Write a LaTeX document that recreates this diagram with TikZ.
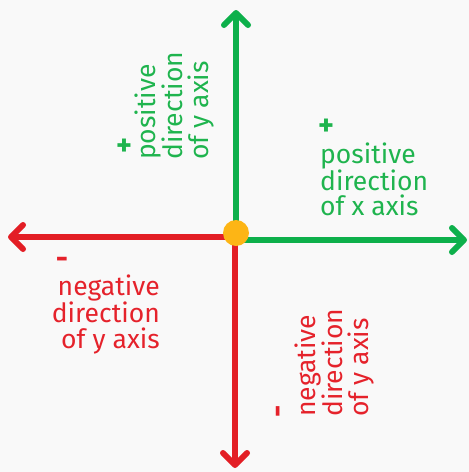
\documentclass[tikz,border=0pt]{standalone}
\usepackage{fontspec}
\setmainfont{Fira Sans}
\usetikzlibrary{arrows.meta}
\definecolor{axgreen}{HTML}{0DB04B}
\definecolor{axred}{HTML}{E31E25}
\definecolor{dotorange}{HTML}{FDB515}
\definecolor{txtgreen}{HTML}{1FB44E}
\definecolor{txtred}{HTML}{E5222B}
\definecolor{paper}{HTML}{F9F9F9}
\begin{document}
\begin{tikzpicture}[x=1pt,y=-1pt,
  axisline/.style={line width=6pt,-{Straight Barb[length=12pt,width=24pt,round]}},
  lbl/.style={font=\fontsize{26.5}{26}\selectfont, inner sep=0pt},
  sign/.style={font=\fontsize{30}{30}\selectfont\bfseries, inner sep=0pt}]
\fill[paper] (0,0) rectangle (469,472);
\useasboundingbox (0,0) rectangle (469,472);
% axis ends
\coordinate (ot) at (236,236);
\coordinate (ob) at (235,236);
\coordinate (ol) at (236,237);
\coordinate (or) at (236,240);
\coordinate (top) at (236,10);
\coordinate (bot) at (235,468);
\coordinate (lft) at (8,237);
\coordinate (rgt) at (467,240);
\draw[axisline,axgreen] (ot) -- (top);
\draw[axisline,axred] (ob) -- (bot);
\draw[axisline,axred] (ol) -- (lft);
\draw[axisline,axgreen] (or) -- (rgt);
\node[circle,fill=dotorange,minimum size=26pt,inner sep=0pt] (dot) at (236,233) {};
% positive x
\node[sign,txtgreen] (px0) at (326,127) {+};
\node[lbl,txtgreen,anchor=base west] (px1) at (320,163) {positive};
\node[lbl,txtgreen,anchor=base west] (px2) at (320,190) {direction};
\node[lbl,txtgreen,anchor=base west] (px3) at (320,215) {of x axis};
% positive y (rotated)
\node[sign,txtgreen] (py0) at (124,147) {+};
\node[lbl,txtgreen,rotate=90,anchor=base west] (py1) at (155,160) {positive};
\node[lbl,txtgreen,rotate=90,anchor=base west] (py2) at (182,160) {direction};
\node[lbl,txtgreen,rotate=90,anchor=base west] (py3) at (208,160) {of y axis};
% negative (left)
\node[sign,txtred] (nl0) at (62,263) {-};
\node[lbl,txtred,anchor=base east] (nl1) at (160,295) {negative};
\node[lbl,txtred,anchor=base east] (nl2) at (160,322) {direction};
\node[lbl,txtred,anchor=base east] (nl3) at (160,348) {of y axis};
% negative y (rotated)
\node[sign,txtred,rotate=90] (ny0) at (282,411) {-};
\node[lbl,txtred,rotate=90,anchor=base west] (ny1) at (315,417) {negative};
\node[lbl,txtred,rotate=90,anchor=base west] (ny2) at (342,417) {direction};
\node[lbl,txtred,rotate=90,anchor=base west] (ny3) at (368,417) {of y axis};
\end{tikzpicture}
\end{document}
